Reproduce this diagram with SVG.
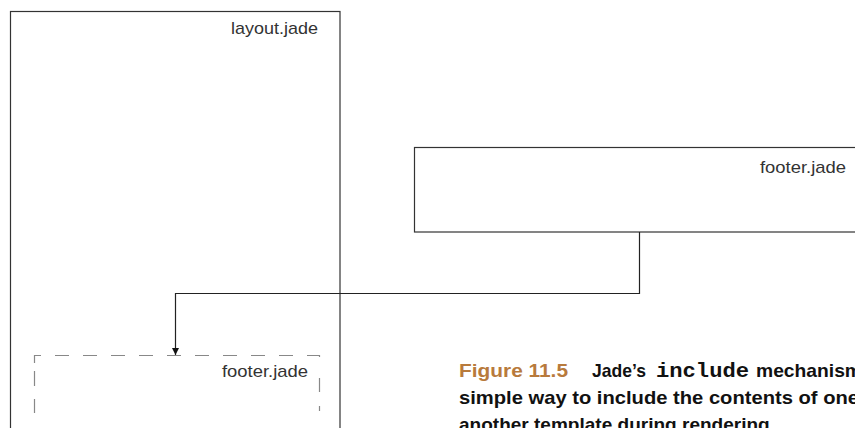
<svg xmlns="http://www.w3.org/2000/svg" width="855" height="428" viewBox="0 0 855 428">
<defs>
<style>
.box{fill:#fff;stroke:#333;stroke-width:1.2}
.dash{fill:none;stroke:#888;stroke-width:1.2}
.lbl{font-family:"Liberation Sans",Arial,sans-serif;font-size:17px;fill:#333;text-anchor:end}
.conn{fill:none;stroke:#222;stroke-width:1.2}
.cap{font-family:"Liberation Sans",Arial,sans-serif;font-weight:bold;font-size:19px;fill:#111}
.fig{fill:#b87a3c}
.mono{font-family:"Liberation Mono","Courier New",monospace;font-weight:bold;font-size:20px;fill:#111}
</style>
<marker id="arr" viewBox="0 0 10 10" refX="10" refY="5" markerWidth="7" markerHeight="8" markerUnits="userSpaceOnUse" orient="auto">
<path d="M0,0 L10,5 L0,10 Z" fill="#111"/>
</marker>
</defs>
<rect width="855" height="428" fill="#fff"/>
<g id="layout">
<rect class="box" x="10.5" y="11.5" width="329.5" height="430"/>
<text class="lbl" x="318" y="34" textLength="87" lengthAdjust="spacingAndGlyphs">layout.jade</text>
</g>
<g id="footer">
<rect class="box" x="414.5" y="147.5" width="460" height="84.5"/>
<text class="lbl" x="846" y="173" textLength="86" lengthAdjust="spacingAndGlyphs">footer.jade</text>
</g>
<g id="included-footer">
<path class="dash" d="M34.5,363 V355.5 H319.5 V365" stroke-dasharray="14,14"/>
<line class="dash" x1="34.5" y1="371" x2="34.5" y2="386"/>
<line class="dash" x1="34.5" y1="399" x2="34.5" y2="413"/>
<line class="dash" x1="319.5" y1="378" x2="319.5" y2="392"/>
<line class="dash" x1="319.5" y1="406" x2="319.5" y2="411"/>
<text class="lbl" x="308" y="377" textLength="86" lengthAdjust="spacingAndGlyphs">footer.jade</text>
</g>
<g id="connectors">
<path class="conn" d="M639.5,232 V293.5 H175.5 V355" marker-end="url(#arr)"/>
</g>
<g id="caption">
<text class="cap fig" x="459" y="377" textLength="109" lengthAdjust="spacingAndGlyphs">Figure 11.5</text>
<text class="cap" x="592" y="377" textLength="54" lengthAdjust="spacingAndGlyphs">Jade’s</text>
<text class="mono" x="656" y="377" textLength="93" lengthAdjust="spacingAndGlyphs">include</text>
<text class="cap" x="756" y="377" textLength="106" lengthAdjust="spacingAndGlyphs">mechanism</text>
<text class="cap" x="459" y="404" textLength="400" lengthAdjust="spacingAndGlyphs">simple way to include the contents of one</text>
<text class="cap" x="459" y="431" textLength="316" lengthAdjust="spacingAndGlyphs">another template during rendering.</text>
</g>
</svg>
